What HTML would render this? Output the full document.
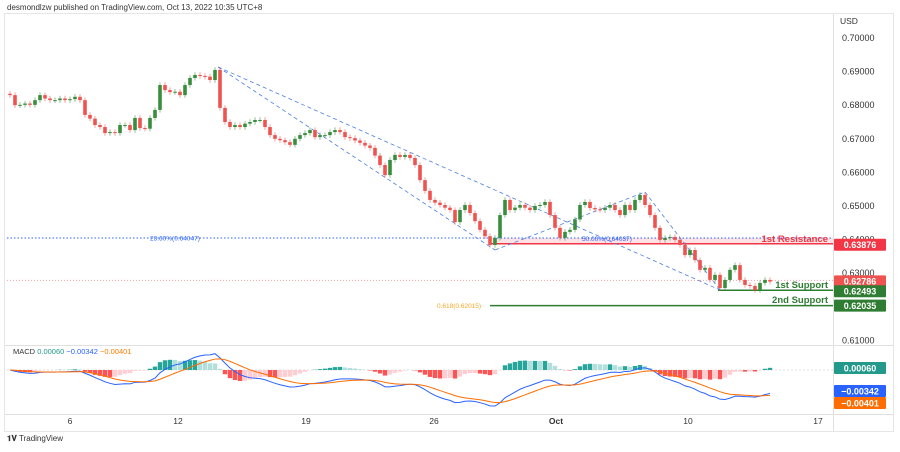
<!DOCTYPE html>
<html><head><meta charset="utf-8">
<style>
html,body{margin:0;padding:0;background:#fff;}
body{width:900px;height:447px;overflow:hidden;font-family:"Liberation Sans",sans-serif;}
svg text{font-family:"Liberation Sans",sans-serif;}
</style></head>
<body>
<svg id="chart" width="900" height="447" viewBox="0 0 900 447">
<text x="7" y="10" font-size="8" fill="#333">desmondlzw published on TradingView.com, Oct 13, 2022 10:35 UTC+8</text>
<rect x="4.5" y="13.5" width="889" height="418" fill="none" stroke="#e6e6e6"/>
<line x1="833.5" y1="13" x2="833.5" y2="431" stroke="#e0e0e0"/>
<line x1="5" y1="345.5" x2="893" y2="345.5" stroke="#e0e0e0"/>
<line x1="5" y1="414.5" x2="893" y2="414.5" stroke="#e0e0e0"/>
<text x="840" y="24" font-size="8.5" fill="#333">USD</text>
<g id="yticks"></g>
<g id="xticks"></g>
<g id="overlays"></g>
<g id="candles"></g>
<g id="macd"></g>
<g id="badges"></g>
<text x="13" y="354" font-size="7.5"><tspan fill="#333">MACD</tspan> <tspan fill="#22998a">0.00060</tspan> <tspan fill="#2962ff">−0.00342</tspan> <tspan fill="#f57c00">−0.00401</tspan></text>
<text x="7" y="441" font-size="8" fill="#333" font-weight="bold">𝟏𝐕 <tspan font-weight="normal">TradingView</tspan></text>
</svg>
<script>
const closes=[.6830,.6800,.6801,.6805,.6801,.6815,.6830,.6820,.6815,.6815,.6820,.6815,.6818,.6825,.6815,.6771,.6760,.6741,.6735,.6717,.6720,.6717,.6741,.6741,.6726,.6762,.6732,.6730,.6762,.6786,.6860,.6845,.6839,.6840,.6830,.6860,.6881,.6890,.6887,.6885,.6875,.6905,.6792,.6750,.6735,.6741,.6735,.6745,.6750,.6756,.6756,.6735,.6711,.6700,.6696,.6690,.6682,.6700,.6711,.6717,.6726,.6705,.6711,.6711,.6720,.6726,.6720,.6705,.6702,.6695,.6688,.6680,.6673,.6650,.6622,.6592,.6637,.6652,.6646,.6652,.6643,.6622,.6577,.6545,.6518,.6510,.6503,.6495,.6488,.6452,.6488,.6503,.6479,.6455,.6429,.6410,.6384,.6405,.6473,.6518,.6488,.6495,.6503,.6495,.6488,.6500,.6503,.6512,.6473,.6435,.6405,.6423,.6429,.6460,.6503,.6512,.6494,.6490,.6488,.6495,.6503,.6488,.6473,.6503,.6488,.6518,.6533,.6503,.6473,.6435,.6399,.6405,.6408,.6399,.6384,.6354,.6369,.6339,.6310,.6316,.6280,.6295,.6256,.6280,.6310,.6324,.6280,.6265,.6262,.6250,.6271,.6280,.6275];
const priceTicks=[0.70,0.69,0.68,0.67,0.66,0.65,0.64,0.63,0.61];
const dateLabels=["6","12","19","26","Oct","10","17"];
const dateIdx=[12,33.6,59.2,84.8,109.2,135.6,161.6];
const levels=[0.63876,0.62786,0.62493,0.62035];
const macdLast=[0.00060,-0.00342,-0.00401];

const NS="http://www.w3.org/2000/svg";
function el(tag,attrs,parent,txt){const e=document.createElementNS(NS,tag);for(const k in attrs)e.setAttribute(k,attrs[k]);if(txt!==undefined)e.textContent=txt;parent.appendChild(e);return e;}
const yP=p=>38+(0.70-p)*3360;
const step=5, x0=10;
const xI=i=>x0+i*step;
// ticks
const yt=document.getElementById('yticks');
priceTicks.forEach(p=>{const t=el('text',{x:842,y:yP(p)+3,'font-size':9,fill:'#333'},yt,p.toFixed(5));

});
const xt=document.getElementById('xticks');
dateLabels.forEach((d,k)=>{const t=el('text',{x:xI(dateIdx[k]),y:424,'font-size':8.5,fill:'#333','text-anchor':'middle','font-weight':d==='Oct'?'bold':'normal'},xt,d);

});
// overlays
const ov=document.getElementById('overlays');
function ln(x1,y1,x2,y2,st,w,da,name){const l=el('line',{x1,y1,x2,y2,stroke:st,'stroke-width':w},ov);if(da)l.setAttribute('stroke-dasharray',da);

return l;}
const band=el('rect',{x:490,y:yP(0.6405),width:343,height:yP(levels[0])-yP(0.6405),fill:'#fbd5d8',opacity:0.7},ov);


ln(7,yP(0.64047),833,yP(0.64047),'#2962ff',1,'1.5,2','fib-23-6-line');
ln(490,yP(levels[0]),833,yP(levels[0]),'#f23645',1.5,null,'resistance-line');
ln(7,yP(levels[1]),833,yP(levels[1]),'#f7a1a8',1,'1,2','last-price-line');
ln(718,yP(levels[2]),833,yP(levels[2]),'#2e7d32',1.5,null,'support-1-line');
ln(490,yP(levels[3]),833,yP(levels[3]),'#2e7d32',1.5,null,'support-2-line');
ln(218,67,495,250,'#4a7fe0',0.8,'4,3','trendline-steep');
ln(218,67,720,290,'#4a7fe0',0.8,'4,3','trendline-shallow');
ln(495,250,645,192,'#4a7fe0',0.8,'4,3','triangle-up-leg');
ln(645,192,720,290,'#4a7fe0',0.8,'4,3','triangle-down-leg');
function tx(x,y,s,c,sz,name,anchor,fw){const t=el('text',{x,y,'font-size':sz,fill:c,'text-anchor':anchor||'start','font-weight':fw||'normal'},ov,s);

}
tx(150,yP(0.64047)+2.5,'23.60%(0.64047)','#2962ff',6.5,'fib-23-6-label');
tx(582,yP(0.64037)+2.5,'50.00%(0.64037)','#2962ff',6.5,'fib-50-label');
tx(437,yP(levels[3])+2.5,'0.618(0.62015)','#f5a623',6.5,'fib-61-8-label');
tx(828,242,'1st Resistance','#f23645',9.5,'resistance-label','end','bold');
tx(828,288,'1st Support','#2e7d32',9.5,'support-1-label','end','bold');
tx(828,303,'2nd Support','#2e7d32',9.5,'support-2-label','end','bold');
// candles
const cg=document.getElementById('candles');
closes.forEach((c,i)=>{const o=i?closes[i-1]:c+0.0004;const up=c>=o;const col=up?'#388e3c':'#ef5350';
const hi=Math.max(o,c)+0.0008, lo=Math.min(o,c)-0.0008;const x=xI(i);
const w=el('line',{x1:x,x2:x,y1:yP(hi),y2:yP(lo),stroke:col,'stroke-width':0.8,opacity:0.7},cg);


const yb=yP(Math.max(o,c));const h=Math.max(1,yP(Math.min(o,c))-yb);
const b=el('rect',{x:x-1.8,y:yb,width:3.6,height:h,fill:col},cg);

});
// MACD
function ema(a,n){const k=2/(n+1);const r=[];a.forEach((v,i)=>r.push(i?v*k+r[i-1]*(1-k):v));return r;}
const e12=ema(closes,12),e26=ema(closes,26);const macd=closes.map((_,i)=>e12[i]-e26[i]);const sig=ema(macd,9);const hist=macd.map((m,i)=>m-sig[i]);
const mg=document.getElementById('macd');const z=370;
let mx=0;macd.concat(sig).forEach(v=>mx=Math.max(mx,Math.abs(v)));const ms=36/mx;
let hm=0;hist.forEach(v=>hm=Math.max(hm,Math.abs(v)));const hs=11/hm;
const zl=el('line',{x1:7,x2:833,y1:z,y2:z,stroke:'#bbb','stroke-dasharray':'2,2','stroke-width':0.6},mg);


hist.forEach((h,i)=>{const prev=i?hist[i-1]:h;const col=h>=0?(h>=prev?'#26a69a':'#b2dfdb'):(h<prev?'#ff5252':'#ffcdd2');
const r=el('rect',{x:xI(i)-2.2,y:h>=0?z-h*hs:z,width:4.4,height:Math.abs(h)*hs,fill:col},mg);

});
const pm=el('polyline',{points:macd.map((v,i)=>xI(i)+','+(z-v*ms)).join(' '),fill:'none',stroke:'#2962ff','stroke-width':1},mg);


const ps=el('polyline',{points:sig.map((v,i)=>xI(i)+','+(z-v*ms)).join(' '),fill:'none',stroke:'#ff6d00','stroke-width':1},mg);


// badges
const bg=document.getElementById('badges');
function badge(y,txt,col,name){const r=el('rect',{x:834,y:y-6,width:52,height:12,fill:col,rx:1},bg);


const t=el('text',{x:860,y:y+3.3,'font-size':9,fill:'#fff','text-anchor':'middle','font-weight':'bold'},bg,txt);

}
badge(yP(levels[0])+1,levels[0].toFixed(5),'#f23645','resistance-badge');
badge(yP(levels[1])+1,levels[1].toFixed(5),'#ef5350','last-price-badge');
badge(yP(levels[2])+1,levels[2].toFixed(5),'#2e7d32','support-1-badge');
badge(yP(levels[3]),levels[3].toFixed(5),'#2e7d32','support-2-badge');
badge(368,macdLast[0].toFixed(5),'#22998a','histogram-badge');
badge(391,'−'+Math.abs(macdLast[1]).toFixed(5),'#2962ff','macd-badge');
badge(403,'−'+Math.abs(macdLast[2]).toFixed(5),'#ff6d00','signal-badge');
</script>
</body></html>
